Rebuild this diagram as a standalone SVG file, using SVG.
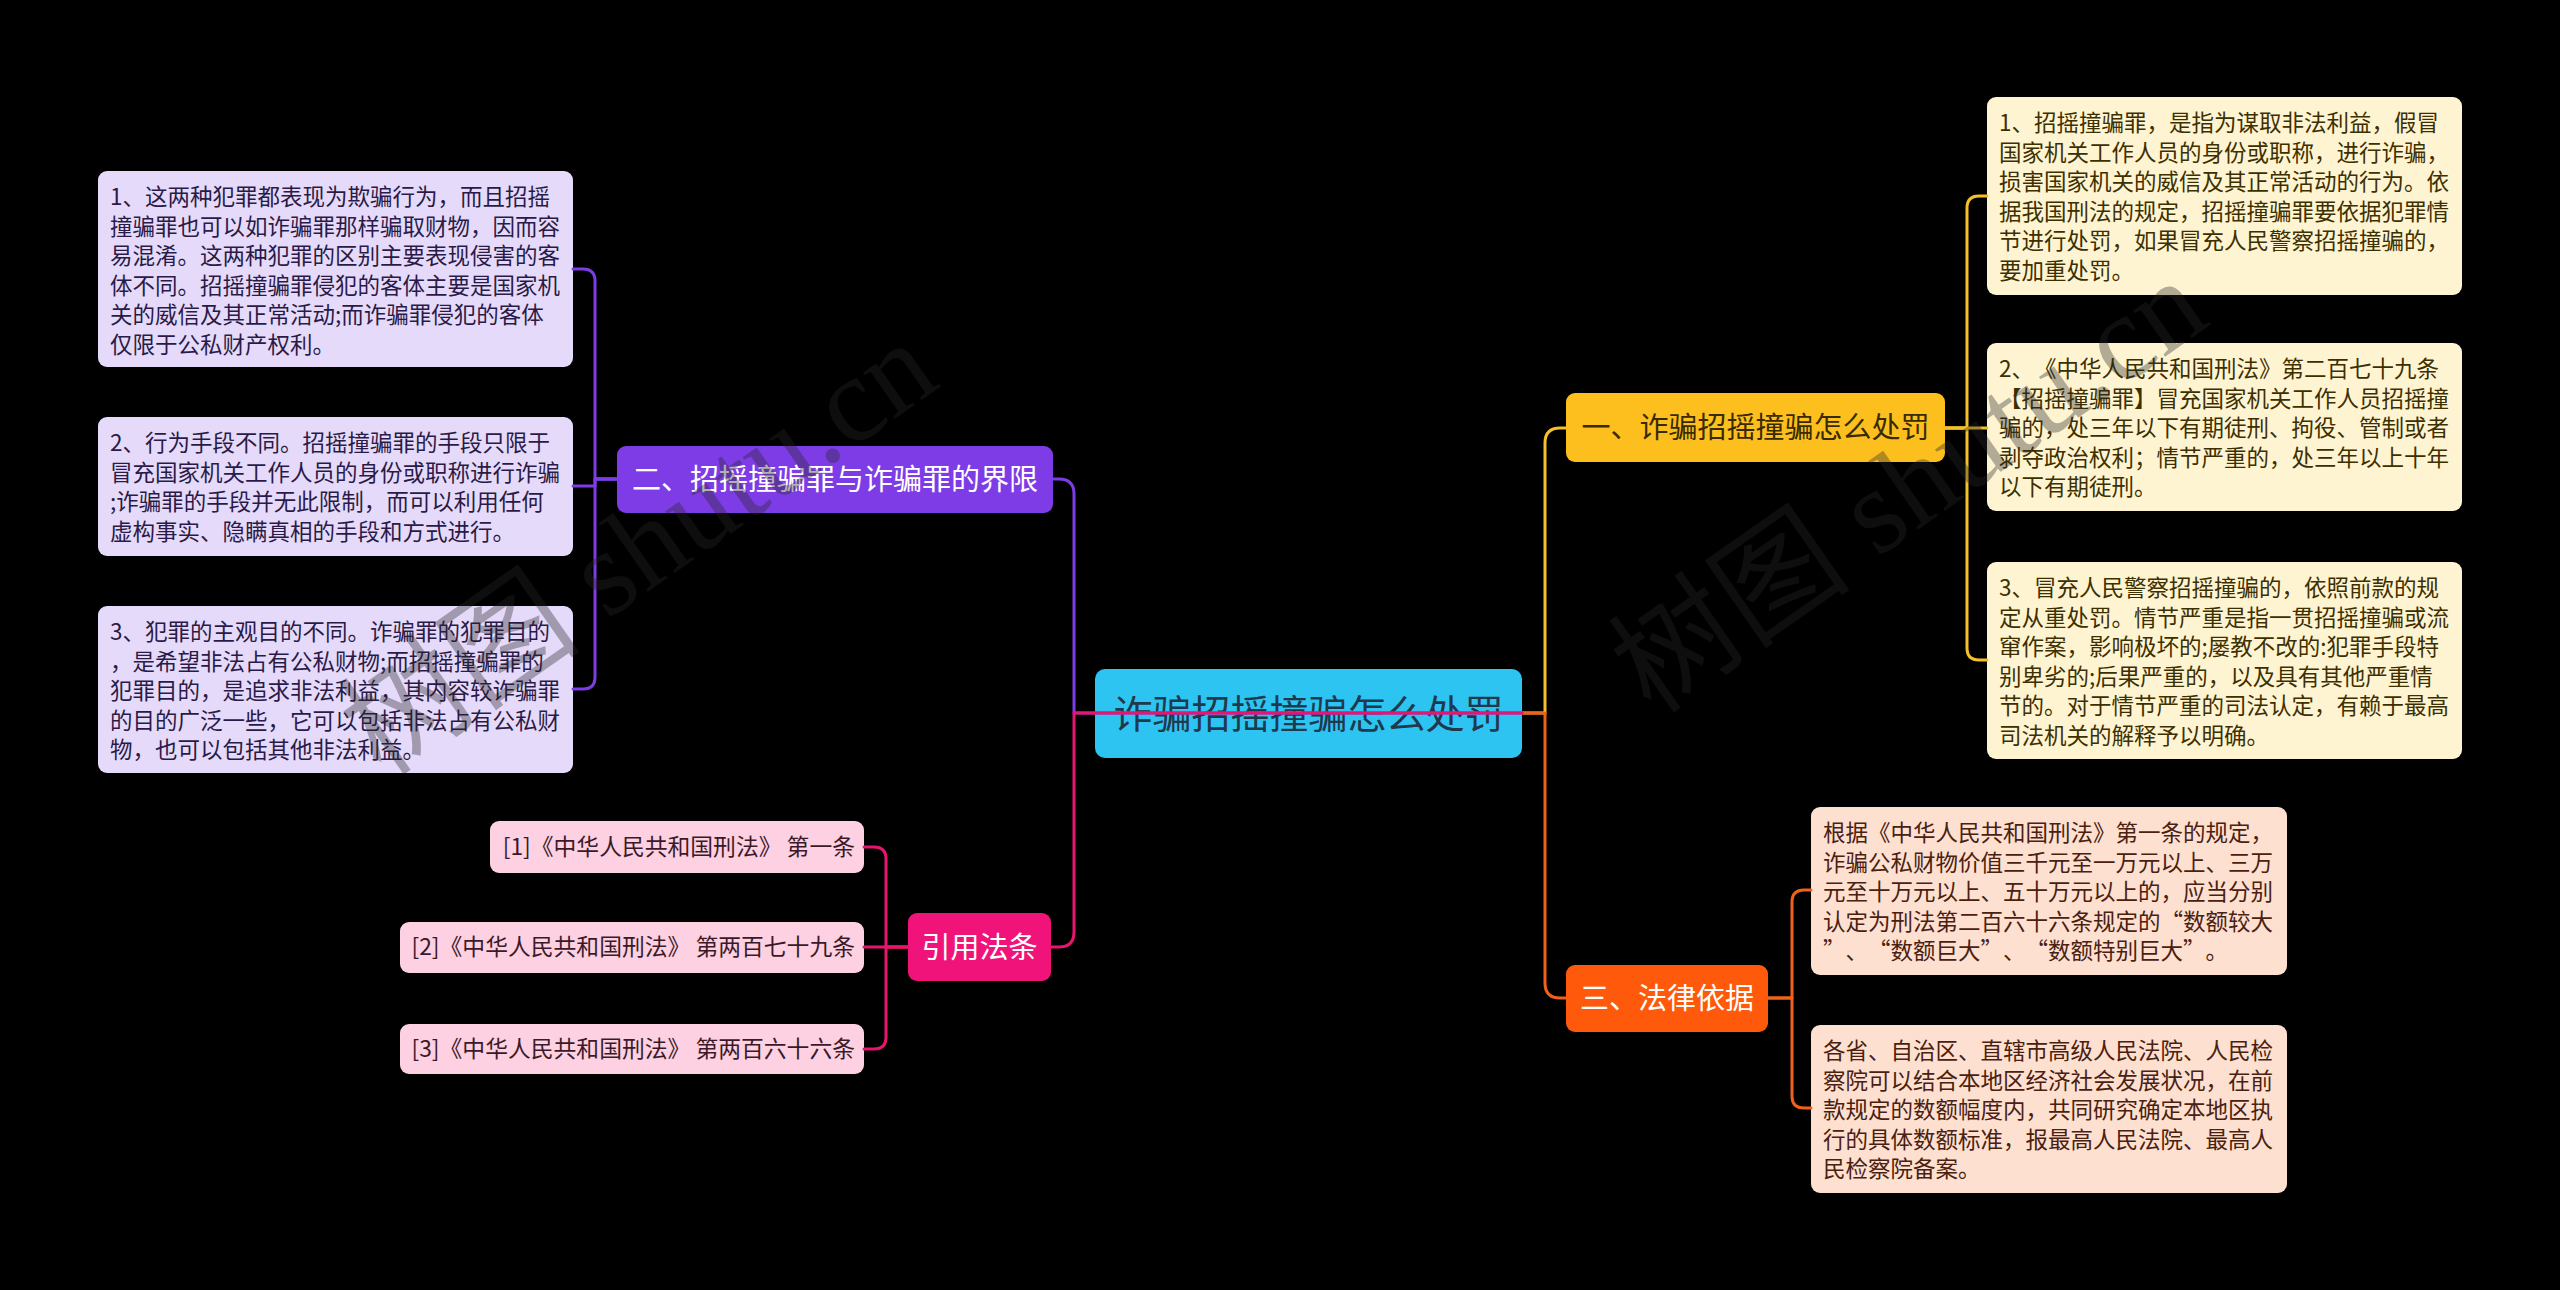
<svg xmlns="http://www.w3.org/2000/svg" width="2560" height="1290" viewBox="0 0 2560 1290">
<style>
.t{font-family:"Noto Sans CJK SC","Noto Sans",sans-serif;text-spacing-trim:space-all}
.leaf{font-size:22.5px}
.pk{font-size:22.8px;fill:#3a1a28;text-anchor:end}
.br{font-size:29px;text-anchor:middle}
.fw{font-feature-settings:"fwid" 1}
.c{fill:none;stroke-width:3;stroke-linecap:round;stroke-linejoin:round}
.wm{font-family:"Liberation Serif","Noto Sans CJK SC",serif;font-size:122px;fill:#262626;fill-opacity:0.36}
</style>
<rect x="0" y="0" width="2560" height="1290" fill="#000"/>

<g id="center">
<rect x="1095" y="669" width="427" height="89" rx="10" fill="#2ec4f2"/>
<text class="t" x="1308.5" y="728" font-size="39" text-anchor="middle" fill="#1f3a4c">诈骗招摇撞骗怎么处罚</text>
</g>

<g id="b1">
<rect x="1566" y="393" width="379" height="69" rx="9" fill="#fcbf1e"/>
<text class="t br" x="1755.5" y="438" fill="#3a2a00">一、诈骗招摇撞骗怎么处罚</text>
</g>
<g id="b3">
<rect x="1566" y="965" width="202" height="67" rx="9" fill="#ff5a0c"/>
<text class="t br" x="1667" y="1009" fill="#fff">三、法律依据</text>
</g>
<g id="b2">
<rect x="617" y="446" width="436" height="67" rx="9" fill="#7d3ce6"/>
<text class="t br" x="835" y="490" fill="#fff">二、招摇撞骗罪与诈骗罪的界限</text>
</g>
<g id="b4">
<rect x="908" y="913" width="143" height="68" rx="9" fill="#f0137a"/>
<text class="t br" x="979.5" y="958" fill="#fff">引用法条</text>
</g>

<g id="r1">
<rect x="1987" y="97" width="475" height="198" rx="9" fill="#fff4d2"/>
<text class="t leaf" fill="#3d3000"><tspan x="1999" y="131">1、招摇撞骗罪，是指为谋取非法利益，假冒</tspan><tspan x="1999" dy="29.6">国家机关工作人员的身份或职称，进行诈骗，</tspan><tspan x="1999" dy="29.6">损害国家机关的威信及其正常活动的行为。依</tspan><tspan x="1999" dy="29.6">据我国刑法的规定，招摇撞骗罪要依据犯罪情</tspan><tspan x="1999" dy="29.6">节进行处罚，如果冒充人民警察招摇撞骗的，</tspan><tspan x="1999" dy="29.6">要加重处罚。</tspan></text>
</g>
<g id="r2">
<rect x="1987" y="343" width="475" height="168" rx="9" fill="#fff4d2"/>
<text class="t leaf" fill="#3d3000"><tspan x="1999" y="377">2、《中华人民共和国刑法》第二百七十九条</tspan><tspan x="1999" dy="29.6">【招摇撞骗罪】冒充国家机关工作人员招摇撞</tspan><tspan x="1999" dy="29.6">骗的，处三年以下有期徒刑、拘役、管制或者</tspan><tspan x="1999" dy="29.6">剥夺政治权利；情节严重的，处三年以上十年</tspan><tspan x="1999" dy="29.6">以下有期徒刑。</tspan></text>
</g>
<g id="r3">
<rect x="1987" y="562" width="475" height="197" rx="9" fill="#fff4d2"/>
<text class="t leaf" fill="#3d3000"><tspan x="1999" y="596">3、冒充人民警察招摇撞骗的，依照前款的规</tspan><tspan x="1999" dy="29.6">定从重处罚。情节严重是指一贯招摇撞骗或流</tspan><tspan x="1999" dy="29.6">窜作案，影响极坏的;屡教不改的:犯罪手段特</tspan><tspan x="1999" dy="29.6">别卑劣的;后果严重的，以及具有其他严重情</tspan><tspan x="1999" dy="29.6">节的。对于情节严重的司法认定，有赖于最高</tspan><tspan x="1999" dy="29.6">司法机关的解释予以明确。</tspan></text>
</g>

<g id="o1">
<rect x="1811" y="807" width="476" height="168" rx="9" fill="#fde0d0"/>
<text class="t leaf fw" fill="#4a2010"><tspan x="1823" y="841">根据《中华人民共和国刑法》第一条的规定，</tspan><tspan x="1823" dy="29.6">诈骗公私财物价值三千元至一万元以上、三万</tspan><tspan x="1823" dy="29.6">元至十万元以上、五十万元以上的，应当分别</tspan><tspan x="1823" dy="29.6">认定为刑法第二百六十六条规定的“数额较大</tspan><tspan x="1823" dy="29.6">”、“数额巨大”、“数额特别巨大”。</tspan></text>
</g>
<g id="o2">
<rect x="1811" y="1025" width="476" height="168" rx="9" fill="#fde0d0"/>
<text class="t leaf" fill="#4a2010"><tspan x="1823" y="1059">各省、自治区、直辖市高级人民法院、人民检</tspan><tspan x="1823" dy="29.6">察院可以结合本地区经济社会发展状况，在前</tspan><tspan x="1823" dy="29.6">款规定的数额幅度内，共同研究确定本地区执</tspan><tspan x="1823" dy="29.6">行的具体数额标准，报最高人民法院、最高人</tspan><tspan x="1823" dy="29.6">民检察院备案。</tspan></text>
</g>

<g id="p1">
<rect x="98" y="171" width="475" height="196" rx="9" fill="#e6dafa"/>
<text class="t leaf" fill="#2a1a48"><tspan x="110" y="205">1、这两种犯罪都表现为欺骗行为，而且招摇</tspan><tspan x="110" dy="29.6">撞骗罪也可以如诈骗罪那样骗取财物，因而容</tspan><tspan x="110" dy="29.6">易混淆。这两种犯罪的区别主要表现侵害的客</tspan><tspan x="110" dy="29.6">体不同。招摇撞骗罪侵犯的客体主要是国家机</tspan><tspan x="110" dy="29.6">关的威信及其正常活动;而诈骗罪侵犯的客体</tspan><tspan x="110" dy="29.6">仅限于公私财产权利。</tspan></text>
</g>
<g id="p2">
<rect x="98" y="417" width="475" height="139" rx="9" fill="#e6dafa"/>
<text class="t leaf" fill="#2a1a48"><tspan x="110" y="451">2、行为手段不同。招摇撞骗罪的手段只限于</tspan><tspan x="110" dy="29.6">冒充国家机关工作人员的身份或职称进行诈骗</tspan><tspan x="110" dy="29.6">;诈骗罪的手段并无此限制，而可以利用任何</tspan><tspan x="110" dy="29.6">虚构事实、隐瞒真相的手段和方式进行。</tspan></text>
</g>
<g id="p3">
<rect x="98" y="606" width="475" height="167" rx="9" fill="#e6dafa"/>
<text class="t leaf" fill="#2a1a48"><tspan x="110" y="640">3、犯罪的主观目的不同。诈骗罪的犯罪目的</tspan><tspan x="110" dy="29.6">，是希望非法占有公私财物;而招摇撞骗罪的</tspan><tspan x="110" dy="29.6">犯罪目的，是追求非法利益，其内容较诈骗罪</tspan><tspan x="110" dy="29.6">的目的广泛一些，它可以包括非法占有公私财</tspan><tspan x="110" dy="29.6">物，也可以包括其他非法利益。</tspan></text>
</g>

<g id="k1">
<rect x="490" y="821" width="374" height="52" rx="9" fill="#fdd0e2"/>
<text class="t pk" x="855" y="855">[1]《中华人民共和国刑法》 第一条</text>
</g>
<g id="k2">
<rect x="400" y="922" width="464" height="51" rx="9" fill="#fdd0e2"/>
<text class="t pk" x="855" y="955">[2]《中华人民共和国刑法》 第两百七十九条</text>
</g>
<g id="k3">
<rect x="400" y="1024" width="464" height="50" rx="9" fill="#fdd0e2"/>
<text class="t pk" x="855" y="1057">[3]《中华人民共和国刑法》 第两百六十六条</text>
</g>

<g id="connectors">
<path class="c" stroke="#f5c02a" d="M1522,713 H1545 V443 Q1545,428 1560,428 H1566"/>
<path class="c" stroke="#f0621c" d="M1522,713 H1545 V983 Q1545,998 1560,998 H1566"/>
<path class="c" stroke="#7d3ce6" d="M1522,713 H1074 V494 Q1074,479 1059,479 H1053"/>
<path class="c" stroke="#e8156f" d="M1522,713 H1074 V932 Q1074,947 1059,947 H1051"/>
<path class="c" stroke="#f5c02a" d="M1945,428 H1967 V208 Q1967,196 1979,196 H1987"/>
<path class="c" stroke="#f5c02a" d="M1945,428 H1987"/>
<path class="c" stroke="#f5c02a" d="M1945,428 H1967 V648 Q1967,660 1979,660 H1987"/>
<path class="c" stroke="#f0621c" d="M1768,998 H1792 V902 Q1792,890 1804,890 H1811"/>
<path class="c" stroke="#f0621c" d="M1768,998 H1792 V1096 Q1792,1108 1804,1108 H1811"/>
<path class="c" stroke="#7d3ce6" d="M617,479 H595 V281 Q595,269 583,269 H573"/>
<path class="c" stroke="#7d3ce6" d="M617,479 H595 V486 H573"/>
<path class="c" stroke="#7d3ce6" d="M617,479 H595 V677 Q595,689 583,689 H573"/>
<path class="c" stroke="#e8156f" d="M908,947 H886 V859 Q886,847 874,847 H864"/>
<path class="c" stroke="#e8156f" d="M908,947 H864"/>
<path class="c" stroke="#e8156f" d="M908,947 H886 V1037 Q886,1049 874,1049 H864"/>
</g>

<g id="watermark">
<text class="wm" transform="translate(382,778) rotate(-35)">树图 shutu.cn</text>
<text class="wm" transform="translate(1652,716) rotate(-35)">树图 shutu.cn</text>
</g>
</svg>
